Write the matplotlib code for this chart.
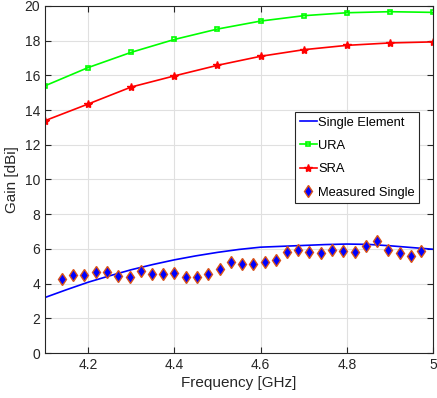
import matplotlib
matplotlib.use("Agg")
import matplotlib.pyplot as plt
from matplotlib.ticker import FuncFormatter

plt.rcParams['font.family'] = ['Liberation Sans', 'DejaVu Sans']

# simulated array gains
freq_arr = [4.1, 4.2, 4.3, 4.4, 4.5, 4.6, 4.7, 4.8, 4.9, 5.0]
ura = [15.4, 16.45, 17.33, 18.07, 18.67, 19.13, 19.44, 19.61, 19.67, 19.63]
sra = [13.39, 14.35, 15.33, 15.97, 16.58, 17.1, 17.48, 17.73, 17.87, 17.93]

# simulated single element
freq_single = [4.1, 4.15, 4.2, 4.25, 4.3, 4.35, 4.4, 4.45, 4.5, 4.55,
               4.6, 4.65, 4.7, 4.75, 4.8, 4.85, 4.9, 4.95, 5.0]
single = [3.2, 3.65, 4.08, 4.45, 4.8, 5.1, 5.37, 5.6, 5.8, 5.97,
          6.1, 6.15, 6.2, 6.25, 6.28, 6.26, 6.18, 6.08, 5.98]

# measured single element
freq_meas = [4.139, 4.166, 4.191, 4.218, 4.244, 4.270, 4.296, 4.322, 4.348, 4.374,
             4.400, 4.426, 4.453, 4.479, 4.505, 4.531, 4.557, 4.583, 4.610, 4.635,
             4.661, 4.687, 4.713, 4.740, 4.766, 4.792, 4.818, 4.845, 4.871, 4.896,
             4.923, 4.948, 4.973]
meas = [4.28, 4.5, 4.5, 4.65, 4.67, 4.42, 4.38, 4.74, 4.55, 4.55,
        4.61, 4.4, 4.4, 4.53, 4.84, 5.24, 5.13, 5.11, 5.23, 5.36,
        5.8, 5.95, 5.8, 5.74, 5.92, 5.9, 5.84, 6.17, 6.47, 5.94,
        5.74, 5.61, 5.88]

fig = plt.figure(figsize=(4.37, 3.98), dpi=100)
ax = fig.add_axes([0.103, 0.113, 0.888, 0.872])

ax.plot(freq_single, single, color='#0000ff', lw=1.2, label='Single Element')
ax.plot(freq_arr, ura, color='#00ff00', lw=1.2, marker='s', ms=3.5,
        mfc='none', mew=1.2, label='URA')
ax.plot(freq_arr, sra, color='#ff0000', lw=1.2, marker='*', ms=6, label='SRA')
ax.plot(freq_meas, meas, ls='none', marker='d', ms=6.5, mfc='#0000ff',
        mec='#d95319', mew=1.0, label='Measured Single')

ax.set_xlim(4.1, 5.0)
ax.set_ylim(0, 20)
ax.set_xticks([4.2, 4.4, 4.6, 4.8, 5.0])
ax.set_yticks(range(0, 21, 2))
ax.xaxis.set_major_formatter(FuncFormatter(lambda v, p: ('%g' % round(v, 2))))

ax.grid(True, color='#e0e0e0', lw=0.8)
ax.set_axisbelow(True)
ax.tick_params(direction='in', top=True, right=True, labelsize=10,
               colors='#262626', length=4)
for s in ax.spines.values():
    s.set_color('#262626')
    s.set_linewidth(0.8)

ax.set_xlabel('Frequency [GHz]', fontsize=11, color='#262626', labelpad=3)
ax.set_ylabel('Gain [dBi]', fontsize=11, color='#262626', labelpad=4)

leg = ax.legend(loc='center right', bbox_to_anchor=(0.964, 0.563), fontsize=9.3,
                fancybox=False, framealpha=1, edgecolor='#262626',
                handlelength=1.3, handletextpad=0.1, borderpad=0.35,
                labelspacing=0.88, borderaxespad=0.0)
leg.get_frame().set_linewidth(0.8)

fig.savefig('out.png', dpi=100)
